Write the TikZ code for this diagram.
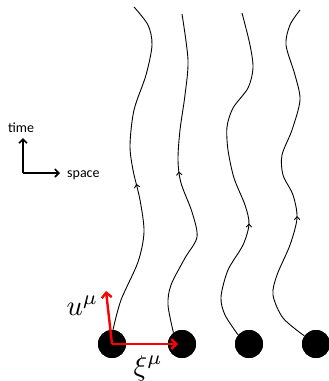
\documentclass[tikz,border=0pt]{standalone}
\usepackage{fontspec}
\newfontfamily\calibri{Carlito}
\usetikzlibrary{arrows.meta,decorations.markings}

\tikzset{
  worldline/.style={line width=0.9pt, postaction={decorate},
    decoration={markings, mark=at position #1 with {\arrow{Straight Barb[length=3pt,width=5.5pt]}}}},
  particle/.style={circle, fill=black, inner sep=0pt, minimum size=28pt},
  vec/.style={red, line width=2.4pt, -{Straight Barb[length=5pt,width=10pt]}},
  axis/.style={line width=1.6pt, -{Straight Barb[length=4pt,width=8pt]}},
  axislabel/.style={font=\calibri\fontsize{14}{16}\selectfont, inner sep=0pt},
  veclabel/.style={scale=2.85, inner sep=0pt}
}

\begin{document}
\begin{tikzpicture}[x=1pt,y=-1pt]
\useasboundingbox (0,0) rectangle (329,381);

% particles
\node[particle] (p1) at (112,344) {};
\node[particle] (p2) at (182,344) {};
\node[particle] (p3) at (249,344) {};
\node[particle] (p4) at (316,344) {};

% worldlines
\draw[worldline=0.45] plot[smooth] coordinates {(p1.86) (121,300) (138,262) (144,232) (140,200)
  (133,170) (130,145) (134,110) (146,75) (152,45) (148,25) (134,7)};
\draw[worldline=0.52] plot[smooth] coordinates {(p2.127) (168,305) (171,285) (185,258) (197,237)
  (192,212) (181,183) (178,160) (180,130) (185,95) (188,60) (182,14)};
\draw[worldline=0.355] plot[smooth] coordinates {(p3.140) (225,315) (221,297) (228,270) (243,245)
  (249,224) (245,205) (234,178) (228,150) (227,127) (233,108) (248,88) (253,68) (250,45) (242,13)};
\draw[worldline=0.385] plot[smooth] coordinates {(p4.145) (283,318) (273,295) (277,275) (290,245)
  (297,218) (293,195) (283,175) (282,155) (292,130) (300,100) (295,75) (286,45) (290,25) (300,10)};

% redraw particles on top
\node[particle] at (p1) {};
\node[particle] at (p2) {};
\node[particle] at (p3) {};
\node[particle] at (p4) {};

% velocity and separation
\coordinate (utip) at (106,291);
\draw[vec] (p1.center) -- (utip);
\draw[vec, shorten >=4pt] (p1.center) -- (p2.center);
\node[veclabel, anchor=base west] (ulab) at (66,315) {$u^\mu$};
\node[veclabel, anchor=base west] (xilab) at (133,375) {$\xi^\mu$};

% axes
\coordinate (origin) at (23,173);
\coordinate (ttip) at (23,138);
\coordinate (stip) at (60,173);
\draw[axis] (origin) -- (ttip);
\draw[axis] (origin) -- (stip);
\node[axislabel, anchor=base] (tlab) at (21,132) {time};
\node[axislabel, anchor=base west] (slab) at (67,177) {space};
\end{tikzpicture}
\end{document}
